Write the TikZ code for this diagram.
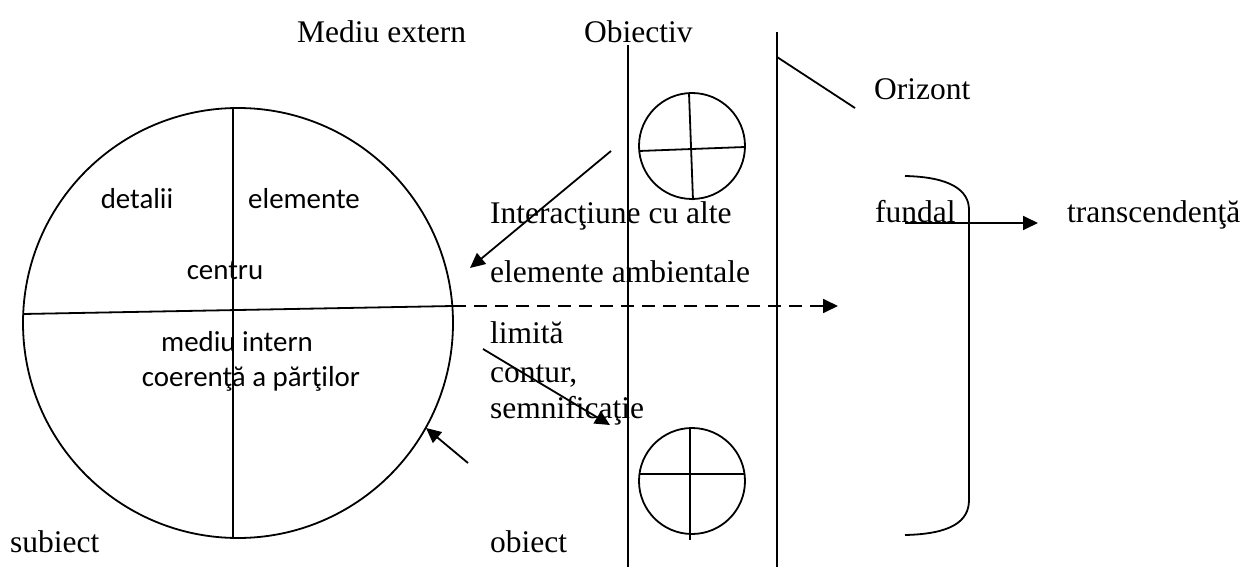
\documentclass[tikz,border=0pt]{standalone}
\usepackage{fontspec}
\setmainfont{Liberation Serif}
\newfontfamily\calfont{Carlito}
\usetikzlibrary{arrows.meta}
\begin{document}
\begin{tikzpicture}[x=1pt,y=-1pt,
  ln/.style={line width=1.8pt},
  arr/.style={ln,-{Triangle[length=15pt,width=14pt]}},
  tms/.style={inner sep=0pt,anchor=base west,font=\fontsize{31.5}{37}\selectfont},
  cal/.style={inner sep=0pt,anchor=base,font=\calfont\fontsize{28.9}{34}\selectfont}]
\useasboundingbox (0,0) rectangle (1253,567);
% big circle
\node[ln,draw,circle,minimum size=430pt,inner sep=0pt] (big) at (238,323) {};
\coordinate (vt) at (233,108);
\coordinate (vb) at (233,538);
\coordinate (hl) at (23,314);
\coordinate (hr) at (453,306);
\draw[ln] (vt) -- (vb);
\draw[ln] (hl) -- (hr);
\node[cal] (detalii) at (137,208) {detalii};
\node[cal] (elemente) at (304,208) {elemente};
\node[cal] (centru) at (225,279) {centru};
\node[cal] (mediu) at (237,351) {mediu intern};
\node[cal] (coer) at (251,386) {coerenţă a părţilor};
% top labels
\node[tms] (mext) at (297,43) {Mediu extern};
\node[tms] (obiectiv) at (584,43) {Obiectiv};
\node[tms] (oriz) at (874,100) {Orizont};
% vertical lines
\coordinate (l1t) at (628,45);
\coordinate (l1b) at (628,567);
\coordinate (l2t) at (777,32);
\coordinate (l2b) at (777,567);
\draw[ln] (l1t) -- (l1b);
\draw[ln] (l2t) -- (l2b);
\coordinate (o1) at (777,57);
\coordinate (o2) at (855,108);
\draw[ln] (o1) -- (o2);
% small circles
\node[ln,draw,circle,minimum size=106pt,inner sep=0pt] (sc1) at (692,146) {};
\coordinate (s1t) at (689,93);
\coordinate (s1b) at (693,200);
\coordinate (s1l) at (639,151);
\coordinate (s1r) at (745,147);
\draw[ln] (s1t) -- (s1b);
\draw[ln] (s1l) -- (s1r);
\node[ln,draw,circle,minimum size=106pt,inner sep=0pt] (sc2) at (692,481) {};
\coordinate (s2t) at (690,428);
\coordinate (s2b) at (690,540);
\coordinate (s2l) at (639,474);
\coordinate (s2r) at (745,474);
\draw[ln] (s2t) -- (s2b);
\draw[ln] (s2l) -- (s2r);
% texts middle
\node[tms] (inter) at (490,223) {Interacţiune cu alte};
\node[tms] (amb) at (490,282) {elemente ambientale};
\node[tms] (limita) at (490,343) {limită};
\node[tms] (contur) at (490,382) {contur,};
\node[tms] (semn) at (490,418) {semnificaţie};
\node[tms] (obiect) at (490,552) {obiect};
\node[tms] (subiect) at (10,552) {subiect};
\node[tms] (fundal) at (875,222) {fundal};
\node[tms] (transc) at (1067,222) {transcendenţă};
% arrows
\coordinate (a1s) at (611,151);
\coordinate (a1e) at (470,268);
\draw[arr] (a1s) -- (a1e);
\coordinate (a2s) at (483,349);
\coordinate (a2e) at (610,425);
\draw[arr] (a2s) -- (a2e);
\coordinate (a3s) at (468,463);
\coordinate (a3e) at (426,428);
\draw[arr] (a3s) -- (a3e);
\coordinate (dend) at (838,306);
\draw[ln,dash pattern=on 13pt off 8pt,-{Triangle[length=15pt,width=14pt]}] (hr) -- (dend);
\coordinate (fs) at (905,223);
\coordinate (fe) at (1038,223);
\draw[arr] (fs) -- (fe);
% bracket
\coordinate (b1) at (905,176);
\coordinate (b4) at (905,535);
\draw[ln] (b1) .. controls (950,177) and (969,190) .. (969,210) -- (969,500) .. controls (969,522) and (950,534) .. (b4);
\end{tikzpicture}
\end{document}
